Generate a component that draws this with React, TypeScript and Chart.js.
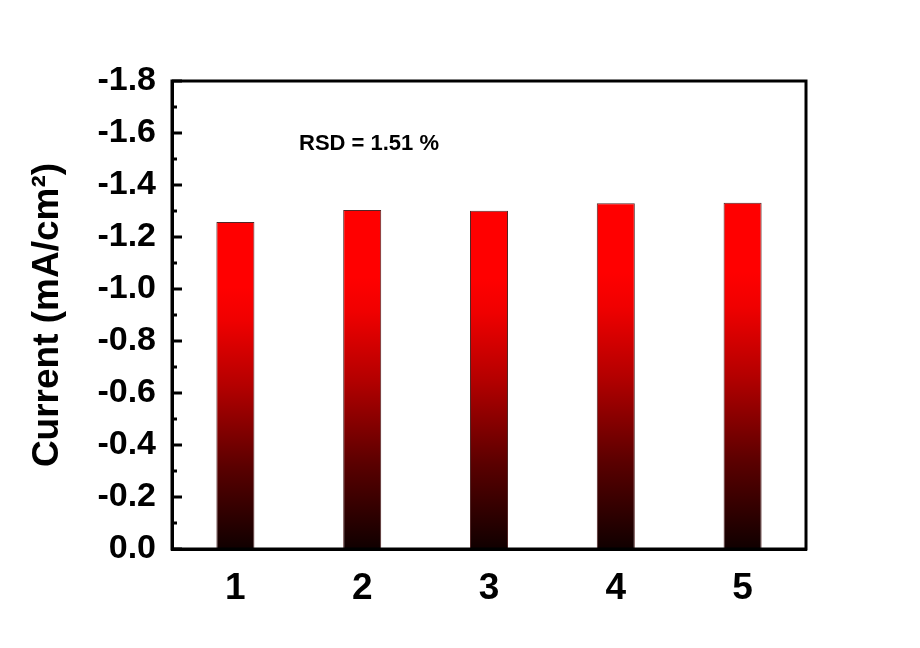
import React, { useEffect, useRef } from "react";
import { Chart, registerables } from "chart.js";

Chart.register(...registerables);

const categories = ["1", "2", "3", "4", "5"];
const currentValues = [-1.258, -1.304, -1.301, -1.33, -1.332];
const yMin = -1.8;
const yMax = 0;
const annotationText = "RSD = 1.51 %";
const yTitle = "Current (mA/cm²)";

const FONT = "'Liberation Sans', Arial, sans-serif";

const framePlugin = {
  id: "frame",
  afterDraw(chart: any) {
    const { ctx, chartArea } = chart;
    const ys = chart.scales.y;
    ctx.save();
    ctx.strokeStyle = "#000";
    ctx.lineWidth = 3;
    for (let i = 0; i <= 18; i++) {
      const v = -i * 0.1;
      const py = Math.round(ys.getPixelForValue(v));
      const major = i % 2 === 0;
      ctx.beginPath();
      ctx.moveTo(chartArea.left, py);
      ctx.lineTo(chartArea.left + (major ? 10 : 5), py);
      ctx.stroke();
    }
    ctx.lineWidth = 3;
    ctx.strokeRect(chartArea.left, chartArea.top, chartArea.right - chartArea.left, chartArea.bottom - chartArea.top);
    ctx.fillStyle = "#000";
    ctx.font = `bold 22px ${FONT}`;
    ctx.textBaseline = "alphabetic";
    ctx.textAlign = "left";
    ctx.fillText(annotationText, chartArea.left + 127, chartArea.top + 69);
    ctx.restore();
  },
};

export default function App() {
  const ref = useRef<HTMLCanvasElement>(null);
  useEffect(() => {
    document.body.style.margin = "0";
    const canvas = ref.current!;
    const chart = new Chart(canvas, {
      type: "bar",
      data: {
        labels: categories,
        datasets: [
          {
            data: currentValues,
            backgroundColor: (c: any) => {
              const ch = c.chart;
              const ys = ch.scales?.y;
              if (!ch.chartArea || !ys || typeof c.raw !== "number") return "#ff0000";
              const top = ys.getPixelForValue(c.raw);
              const bottom = ys.getPixelForValue(0);
              const g = ch.ctx.createLinearGradient(0, bottom, 0, top);
              g.addColorStop(0, "#100000");
              g.addColorStop(0.25, "#5a0000");
              g.addColorStop(0.5, "#b40000");
              g.addColorStop(0.7, "#f00000");
              g.addColorStop(0.8, "#ff0000");
              g.addColorStop(1, "#ff0000");
              return g;
            },
            borderColor: "rgba(50,0,0,0.85)",
            borderWidth: 1,
            borderSkipped: false,
            barPercentage: 0.3,
            categoryPercentage: 1,
          },
        ],
      },
      options: {
        responsive: false,
        animation: false,
        layout: { padding: { top: 81, right: 114, left: 0, bottom: 0 } },
        plugins: { legend: { display: false }, tooltip: { enabled: false } },
        scales: {
          x: {
            grid: { display: false },
            border: { display: true, color: "#000", width: 3 },
            ticks: {
              color: "#000",
              font: { family: FONT, size: 37, weight: "bold" },
              padding: 10,
            },
            afterFit: (s: any) => {
              s.height = 99;
            },
          },
          y: {
            reverse: true,
            min: yMin,
            max: yMax,
            grid: { display: false },
            border: { display: true, color: "#000", width: 3 },
            ticks: {
              stepSize: 0.2,
              color: "#000",
              font: { family: FONT, size: 34, weight: "bold" },
              padding: 8,
              callback: (v: any) => {
                const n = Number(v);
                return Math.abs(n) < 1e-9 ? "0.0" : n.toFixed(1);
              },
            },
            title: {
              display: true,
              text: yTitle,
              color: "#000",
              font: { family: FONT, size: 37, weight: "bold" },
              padding: { top: 26, bottom: 0 },
            },
            afterFit: (s: any) => {
              s.width = 172;
            },
          },
        },
      },
      plugins: [framePlugin],
    });
    return () => chart.destroy();
  }, []);
  return (
    <div style={{ width: 920, height: 648, background: "#fff" }}>
      <canvas ref={ref} width={920} height={648} style={{ display: "block" }} />
    </div>
  );
}
